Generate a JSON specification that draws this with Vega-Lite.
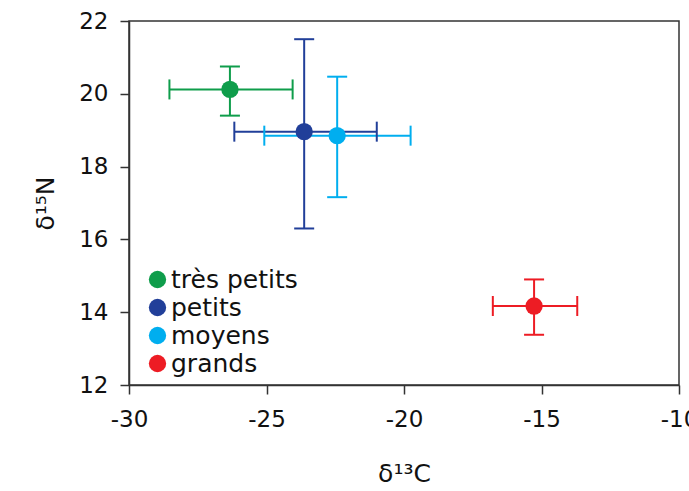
{
  "$schema": "https://vega.github.io/schema/vega-lite/v6.json",
  "width": 550,
  "height": 364,
  "autosize": {"type": "none"},
  "padding": {"left": 129, "top": 21, "right": 10, "bottom": 106},
  "background": "white",
  "data": {
    "values": [
      {"groupe": "très petits", "c13": -26.33, "n15": 20.12, "c13lo": -28.53, "c13hi": -24.05, "n15lo": 19.4, "n15hi": 20.75},
      {"groupe": "petits", "c13": -23.63, "n15": 18.96, "c13lo": -26.17, "c13hi": -20.99, "n15lo": 16.3, "n15hi": 21.5},
      {"groupe": "moyens", "c13": -22.43, "n15": 18.85, "c13lo": -25.08, "c13hi": -19.76, "n15lo": 17.16, "n15hi": 20.47},
      {"groupe": "grands", "c13": -15.27, "n15": 14.17, "c13lo": -16.77, "c13hi": -13.7, "n15lo": 13.38, "n15hi": 14.9}
    ]
  },
  "encoding": {
    "color": {
      "field": "groupe",
      "type": "nominal",
      "scale": {
        "domain": ["très petits", "petits", "moyens", "grands"],
        "range": ["#0f9d4b", "#213f99", "#00aeef", "#ed1c24"]
      },
      "legend": {
        "orient": "none",
        "legendX": 16,
        "legendY": 246,
        "title": null,
        "symbolType": "circle",
        "symbolSize": 300,
        "symbolStrokeWidth": 0,
        "symbolOpacity": 1,
        "labelFontSize": 25,
        "labelFont": "DejaVu Sans",
        "labelColor": "#111111",
        "labelOffset": 1,
        "rowPadding": 2,
        "padding": 0
      }
    }
  },
  "layer": [
    {
      "mark": {"type": "rule", "strokeWidth": 2},
      "encoding": {
        "x": {"field": "c13lo", "type": "quantitative", "scale": {"domain": [-30, -10], "nice": false, "zero": false}, "title": "δ¹³C",
          "axis": {"values": [-30, -25, -20, -15, -10], "labelExpr": "replace(datum.label, '\u2212', '-')"}},
        "x2": {"field": "c13hi"},
        "y": {"field": "n15", "type": "quantitative", "scale": {"domain": [12, 22], "nice": false, "zero": false}, "title": "δ¹⁵N",
          "axis": {"values": [12, 14, 16, 18, 20, 22]}}
      }
    },
    {
      "mark": {"type": "rule", "strokeWidth": 2},
      "encoding": {
        "x": {"field": "c13", "type": "quantitative"},
        "y": {"field": "n15lo", "type": "quantitative"},
        "y2": {"field": "n15hi"}
      }
    },
    {
      "mark": {"type": "tick", "orient": "vertical", "size": 20, "thickness": 2, "opacity": 1},
      "encoding": {
        "x": {"field": "c13lo", "type": "quantitative"},
        "y": {"field": "n15", "type": "quantitative"}
      }
    },
    {
      "mark": {"type": "tick", "orient": "vertical", "size": 20, "thickness": 2, "opacity": 1},
      "encoding": {
        "x": {"field": "c13hi", "type": "quantitative"},
        "y": {"field": "n15", "type": "quantitative"}
      }
    },
    {
      "mark": {"type": "tick", "orient": "horizontal", "size": 20, "thickness": 2, "opacity": 1},
      "encoding": {
        "x": {"field": "c13", "type": "quantitative"},
        "y": {"field": "n15lo", "type": "quantitative"}
      }
    },
    {
      "mark": {"type": "tick", "orient": "horizontal", "size": 20, "thickness": 2, "opacity": 1},
      "encoding": {
        "x": {"field": "c13", "type": "quantitative"},
        "y": {"field": "n15hi", "type": "quantitative"}
      }
    },
    {
      "mark": {"type": "point", "shape": "circle", "filled": true, "size": 300, "opacity": 1},
      "encoding": {
        "x": {"field": "c13", "type": "quantitative"},
        "y": {"field": "n15", "type": "quantitative"}
      }
    }
  ],
  "config": {
    "font": "DejaVu Sans",
    "view": {"stroke": "#333333", "strokeWidth": 1.5},
    "axis": {
      "grid": false,
      "domainColor": "#333333",
      "domainWidth": 1.5,
      "tickColor": "#333333",
      "tickWidth": 1.5,
      "tickSize": 9,
      "labelFont": "DejaVu Sans",
      "labelFontSize": 23,
      "labelColor": "#111111",
      "titleFont": "DejaVu Sans",
      "titleFontSize": 25,
      "titleFontWeight": "normal",
      "titleColor": "#111111"
    },
    "axisX": {"labelPadding": 14, "titlePadding": 30, "labelFlush": false, "labelOverlap": false},
    "axisY": {"labelPadding": 12, "titlePadding": 20, "labelFlush": false, "labelOverlap": false},
    "legend": {"symbolType": "circle"}
  }
}
